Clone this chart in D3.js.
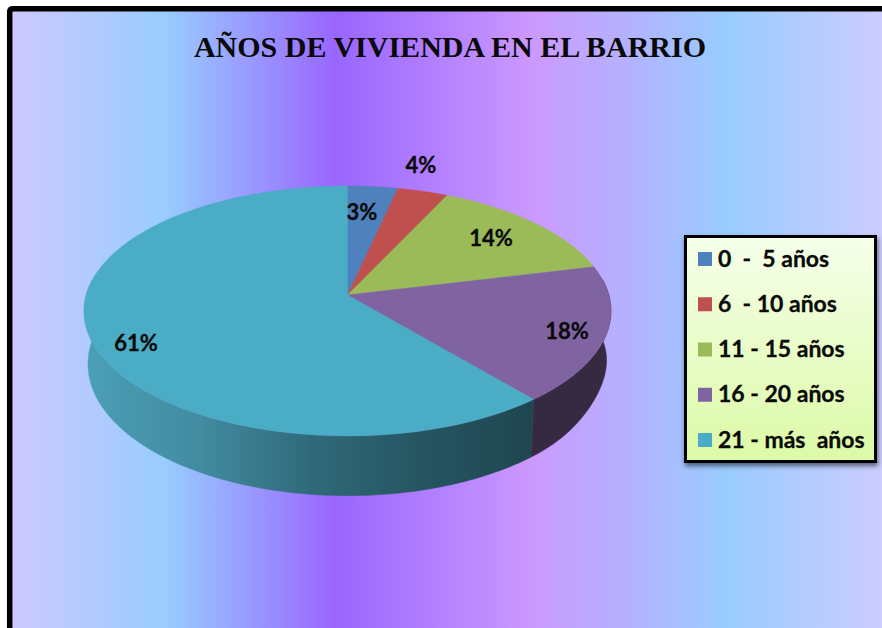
<!DOCTYPE html>
<html><head><meta charset="utf-8">
<script src="https://cdn.jsdelivr.net/npm/d3@7"></script>
<style>html,body{margin:0;padding:0;background:#fff;overflow:hidden}svg{display:block}</style>
</head><body><svg id="c" width="882" height="628"></svg>
<script>
const chartTitle = "AÑOS DE VIVIENDA EN EL BARRIO";
const categories = ["0  -  5 años", "6  - 10 años", "11 - 15 años", "16 - 20 años", "21 - más  años"];
const shares = [3.49, 3.51, 14.2, 17.7, 61.1];
const colors = ["#4f81bd", "#c0504d", "#9bbb59", "#8064a2", "#4bacc6"];

const svg = d3.select("#c");
const defs = svg.append("defs");
const FONT = "Lato, Carlito, sans-serif";

const bg = defs.append("linearGradient").attr("id", "bg").attr("gradientUnits","userSpaceOnUse")
  .attr("x1", 12).attr("x2", 882).attr("y1", 0).attr("y2", 0);
[[0,"#ccc9ff"],[0.176,"#99ccff"],[0.373,"#9966ff"],[0.6,"#cc99ff"],[0.82,"#99ccff"],[1,"#ccccff"]]
  .forEach(([o,c]) => bg.append("stop").attr("offset", o).attr("stop-color", c));

const lg = defs.append("linearGradient").attr("id", "lg").attr("x1",0).attr("x2",0).attr("y1",0).attr("y2",1);
lg.append("stop").attr("offset",0).attr("stop-color","#f6ffea");
lg.append("stop").attr("offset",1).attr("stop-color","#dcfaa6");

const tealSide = defs.append("linearGradient").attr("id","tealSide").attr("gradientUnits","userSpaceOnUse")
  .attr("x1",88).attr("x2",534).attr("y1",0).attr("y2",0);
[[0,"#4a9fb6"],[0.25,"#428ba0"],[0.5,"#306a7a"],[0.75,"#255561"],[1,"#1f4650"]]
  .forEach(([o,c]) => tealSide.append("stop").attr("offset",o).attr("stop-color",c));

const sideFill = ["#2c4467","#642a28","#51612e","#362a42","url(#tealSide)"];

const sh = defs.append("filter").attr("id","sh").attr("x","-10%").attr("y","-10%").attr("width","120%").attr("height","120%");
sh.append("feDropShadow").attr("dx",1).attr("dy",3).attr("stdDeviation",2.5).attr("flood-color","#000").attr("flood-opacity",0.55);

// panel and frame
svg.append("rect").attr("x",12).attr("y",11).attr("width",870).attr("height",617).attr("fill","url(#bg)");
svg.append("path").attr("d","M9.7 628 V12 Q9.7 8.8 13 8.8 H882").attr("fill","none").attr("stroke","#000").attr("stroke-width",5.5);

svg.append("text").attr("x",450).attr("y",57).attr("text-anchor","middle")
  .attr("font-family","'Liberation Serif', serif").attr("font-weight","bold").attr("font-size",30)
  .attr("fill","#0a0a0a").text(chartTitle);

// perspective projection of the unit disc onto the tilted pie top
const apex = [347.5, 295], persp = -0.128;
const sx = d3.scaleLinear().domain([-1,1]).range([-261.3,261.3]);
const sy = d3.scaleLinear().domain([-1,1]).range([-122.9,122.9]);
const top3 = (a, r=1) => {
  const x = Math.sin(a)*r, y = -Math.cos(a)*r, w = 1 + persp*y;
  return [apex[0] + sx(x)/w, apex[1] + sy(y)/w];
};
const pie = d3.pie().sort(null).value(d => d);
const arcs = pie(shares);
const rightEnd = arcs[3].endAngle;
const bottom3 = (a) => {
  const [px, py] = top3(a);
  const t = (a - Math.PI/2) / (rightEnd - Math.PI/2);
  const pull = (t > 0 && t < 1) ? 3 * Math.pow(Math.sin(Math.PI * t), 2) : 0;
  return [apex[0] + (px-apex[0])*0.985 - pull, 364 + (py-311)*1.054];
};
const line = d3.line();
const sample = (a0, a1) => d3.range(0, 121).map(i => a0 + (a1-a0)*i/120);

// visible rim: the front part of the disc
arcs.forEach((d,i) => {
  const a0 = Math.max(d.startAngle, Math.PI*0.46), a1 = Math.min(d.endAngle, Math.PI*1.54);
  if (a1 <= a0) return;
  const as = sample(a0, a1);
  const pts = as.map(a => top3(a)).concat(as.slice().reverse().map(a => bottom3(a)));
  svg.append("path").attr("d", line(pts)+"Z").attr("fill", sideFill[i]).attr("stroke", sideFill[i]).attr("stroke-width",0.5);
});

// top face
arcs.forEach((d,i) => {
  const pts = [apex].concat(sample(d.startAngle, d.endAngle).map(a => top3(a)));
  svg.append("path").attr("d", line(pts)+"Z").attr("fill", colors[i]).attr("stroke", colors[i]).attr("stroke-width",0.4);
});

// data labels
const labelAt = [[362,220],[421,173],[491,246],[567,339],[136,351]];
arcs.forEach((d,i) => {
  svg.append("text").attr("x",labelAt[i][0]).attr("y",labelAt[i][1]).attr("text-anchor","middle")
    .attr("font-family",FONT).attr("font-weight","bold").attr("font-size",22).attr("fill","#0a0a0a")
    .attr("stroke","#0a0a0a").attr("stroke-width",0.3)
    .text(Math.round(d.data) + "%");
});

// legend
svg.append("rect").attr("x",685.5).attr("y",236.5).attr("width",190).attr("height",225)
  .attr("fill","url(#lg)").attr("stroke","#000").attr("stroke-width",3).attr("filter","url(#sh)");
const ly = d3.scalePoint().domain(categories).range([259,440]);
categories.forEach((c,i) => {
  svg.append("rect").attr("x",698).attr("y",ly(c)-7).attr("width",14).attr("height",14).attr("fill",colors[i]);
  svg.append("text").attr("x",718).attr("y",ly(c)+7.5).attr("xml:space","preserve").style("white-space","pre")
    .attr("font-family",FONT).attr("font-weight","bold").attr("font-size",23).attr("fill","#0a0a0a")
    .attr("stroke","#0a0a0a").attr("stroke-width",0.3).text(c);
});
</script></body></html>
